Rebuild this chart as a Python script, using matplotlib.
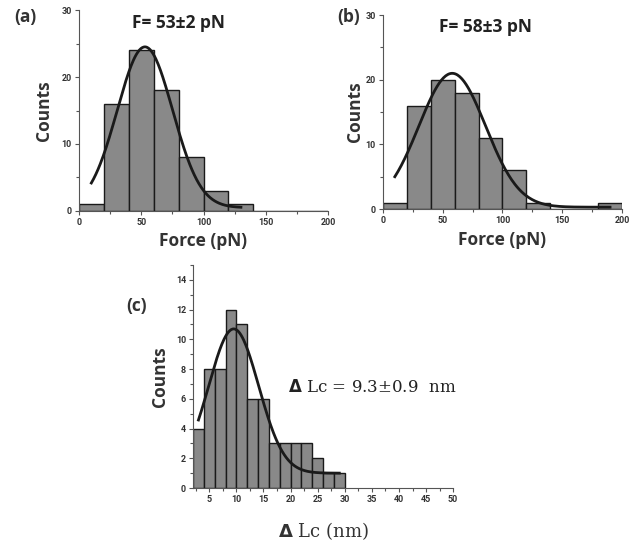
import numpy as np
import matplotlib.pyplot as plt
from matplotlib.ticker import MultipleLocator

# histogram data
force_edges = [0, 20, 40, 60, 80, 100, 120, 140, 160, 180, 200]
counts_a = [1, 16, 24, 18, 8, 3, 1, 0, 0, 0]
counts_b = [1, 16, 20, 18, 11, 6, 1, 0, 0, 1]

lc_edges = [2, 4, 6, 8, 10, 12, 14, 16, 18, 20, 22, 24, 26, 28, 30]
counts_c = [4, 8, 8, 12, 11, 6, 6, 3, 3, 3, 3, 2, 1, 1]

# gaussian fit parameters (offset, amplitude, centre, width, x range)
fit_a = (0.5, 24.0, 53, 22.2, 10, 130)
fit_b = (0.3, 20.7, 58, 27.9, 10, 190)
fit_c = (1.0, 9.7, 9.5, 4.6, 3, 29)

bar_col = '#898989'
tick_font = dict(family='Roboto', size=6.5, weight='bold', color='#333333')
lab_font = ['Open Sans', 'DejaVu Sans']


def draw_hist(ax, edges, counts, fit):
    edges = np.array(edges, dtype=float)
    ax.bar(edges[:-1], counts, width=np.diff(edges), align='edge',
           color=bar_col, edgecolor='#1a1a1a', linewidth=1.0, zorder=2)
    y0, A, xc, w, x1, x2 = fit
    xs = np.linspace(x1, x2, 200)
    ax.plot(xs, y0 + A * np.exp(-(xs - xc) ** 2 / (2 * w ** 2)),
            color='#1a1a1a', lw=2.0, zorder=3)
    for s in ['top', 'right']:
        ax.spines[s].set_visible(False)
    for s in ['left', 'bottom']:
        ax.spines[s].set_color('#555555')
        ax.spines[s].set_linewidth(0.8)
    ax.tick_params(which='both', direction='out', color='#555555', width=0.8,
                   pad=2)
    ax.tick_params(which='major', length=3)
    ax.tick_params(which='minor', length=2)
    ax.set_facecolor('white')


fig = plt.figure(figsize=(6.36, 5.46), dpi=100)

ax_a = fig.add_axes([0.124, 0.6136, 0.392, 0.368])
draw_hist(ax_a, force_edges, counts_a, fit_a)
ax_a.set_xlim(0, 200)
ax_a.set_ylim(0, 30)
ax_a.xaxis.set_major_locator(MultipleLocator(50))
ax_a.xaxis.set_minor_locator(MultipleLocator(25))
ax_a.yaxis.set_major_locator(MultipleLocator(10))
ax_a.yaxis.set_minor_locator(MultipleLocator(5))

ax_b = fig.add_axes([0.602, 0.617, 0.376, 0.3553])
draw_hist(ax_b, force_edges, counts_b, fit_b)
ax_b.set_xlim(0, 200)
ax_b.set_ylim(0, 30)
ax_b.xaxis.set_major_locator(MultipleLocator(50))
ax_b.xaxis.set_minor_locator(MultipleLocator(25))
ax_b.yaxis.set_major_locator(MultipleLocator(10))
ax_b.yaxis.set_minor_locator(MultipleLocator(5))

ax_c = fig.add_axes([0.3035, 0.1062, 0.409, 0.4085])
draw_hist(ax_c, lc_edges, counts_c, fit_c)
ax_c.set_xlim(2, 50)
ax_c.set_ylim(0, 15)
ax_c.xaxis.set_major_locator(MultipleLocator(5))
ax_c.xaxis.set_minor_locator(MultipleLocator(2.5))
ax_c.yaxis.set_major_locator(MultipleLocator(2))
ax_c.yaxis.set_minor_locator(MultipleLocator(1))
ax_c.set_xticks([5, 10, 15, 20, 25, 30, 35, 40, 45, 50])

for ax in [ax_a, ax_b, ax_c]:
    for t in ax.get_xticklabels() + ax.get_yticklabels():
        t.set_family(tick_font['family'])
        t.set_size(tick_font['size'])
        t.set_weight(tick_font['weight'])
        t.set_color(tick_font['color'])

# axis labels
for ax, pad in [(ax_a, 6), (ax_b, 1)]:
    ax.set_xlabel('Force (pN)', family=lab_font, weight='bold', size=12.5,
                  color='#333333', labelpad=4)
    ax.set_ylabel('Counts', family=lab_font, weight='bold', size=12.5,
                  color='#333333', labelpad=pad)
ax_c.set_ylabel('Counts', family=lab_font, weight='bold', size=12.5,
                color='#333333', labelpad=5)
ax_c.set_xlabel(r'$\mathbf{\Delta}$ Lc (nm)', family=['DejaVu Serif'], size=13,
                color='#333333', labelpad=12)

# annotations
fig.text(0.04, 0.968, '(a)', family=lab_font, weight='bold', size=12.5,
         color='#333333', ha='center', va='center')
fig.text(0.548, 0.968, '(b)', family=lab_font, weight='bold', size=12.5,
         color='#333333', ha='center', va='center')
fig.text(0.214, 0.44, '(c)', family=lab_font, weight='bold', size=12.5,
         color='#333333', ha='center', va='center')
fig.text(0.28, 0.958, 'F= 53±2 pN', family=lab_font, weight='bold', size=12.5,
         color='#222222', ha='center', va='center')
fig.text(0.763, 0.95, 'F= 58±3 pN', family=lab_font, weight='bold', size=12.5,
         color='#222222', ha='center', va='center')
fig.text(0.586, 0.291, r'$\mathbf{\Delta}$ Lc = 9.3±0.9  nm',
         family=['DejaVu Serif'], size=12, color='#222222',
         ha='center', va='center')

fig.savefig('out.png', dpi=100, facecolor='white')
